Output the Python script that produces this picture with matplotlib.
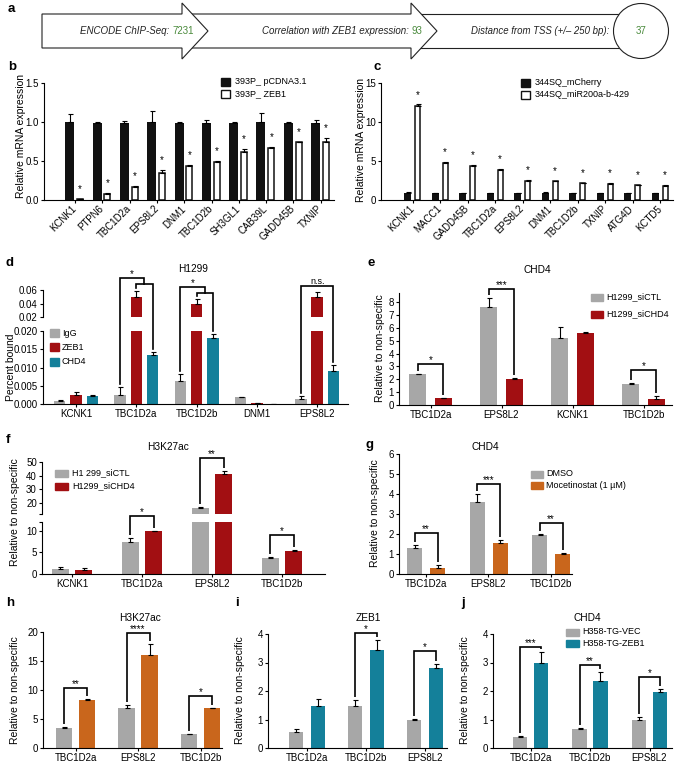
import numpy as np
import matplotlib
matplotlib.use("Agg")
import matplotlib.pyplot as plt
from matplotlib.patches import Polygon, Rectangle, Circle

plt.rcParams['font.family'] = ['Liberation Sans', 'DejaVu Sans']
plt.rcParams['font.size'] = 7.0
plt.rcParams['axes.linewidth'] = 0.8
plt.rcParams['xtick.major.width'] = 0.8
plt.rcParams['ytick.major.width'] = 0.8

W, H = 676, 763
GRAY = '#a7a7a7'
RED = '#a20f12'
TEAL = '#14809a'
ORANGE = '#c9661c'
GREEN = '#4a8a3c'
BLACK = '#111111'

# ---------------- data ----------------
# a: filtering steps
steps_a = ['ENCODE ChIP-Seq: ', 'Correlation with ZEB1 expression: ', 'Distance from TSS (+/– 250 bp):']
counts_a = ['7231', '93', '37']

# b
genes_b = ['KCNK1', 'PTPN6', 'TBC1D2a', 'EPS8L2', 'DNM1', 'TBC1D2b', 'SH3GL1', 'CAB39L', 'GADD45B', 'TXNIP']
b_pcdna = [1.00, 0.99, 0.99, 1.00, 0.99, 0.99, 0.99, 1.00, 0.99, 0.99]
b_pcdna_err = [0.10, 0.01, 0.02, 0.14, 0.01, 0.03, 0.01, 0.12, 0.01, 0.03]
b_zeb1 = [0.01, 0.08, 0.17, 0.35, 0.43, 0.49, 0.62, 0.67, 0.74, 0.74]
b_zeb1_err = [0.005, 0.005, 0.01, 0.04, 0.02, 0.01, 0.03, 0.01, 0.005, 0.05]

# c
genes_c = ['KCNK1', 'MACC1', 'GADD45B', 'TBC1D2a', 'EPS8L2', 'DNM1', 'TBC1D2b', 'TXNIP', 'ATG4D', 'KCTD5']
c_mcherry = [0.92, 0.90, 0.90, 0.90, 0.88, 0.90, 0.90, 0.90, 0.90, 0.88]
c_mcherry_err = [0.05, 0.03, 0.03, 0.03, 0.03, 0.10, 0.03, 0.03, 0.03, 0.03]
c_mir = [12.1, 4.7, 4.35, 3.85, 2.45, 2.4, 2.15, 2.05, 1.9, 1.8]
c_mir_err = [0.15, 0.15, 0.2, 0.08, 0.08, 0.08, 0.08, 0.08, 0.08, 0.08]

# d
genes_d = ['KCNK1', 'TBC1D2a', 'TBC1D2b', 'DNM1', 'EPS8L2']
d_igg = [0.0007, 0.0025, 0.0063, 0.0018, 0.0015]
d_igg_err = [0.0003, 0.0022, 0.0018, 0.0001, 0.0006]
d_zeb1 = [0.0025, 0.050, 0.039, 0.0002, 0.050]
d_zeb1_err = [0.0008, 0.009, 0.007, 0.0001, 0.007]
d_chd4 = [0.0022, 0.0135, 0.018, 0.00005, 0.009]
d_chd4_err = [0.0002, 0.0007, 0.0013, 0.0, 0.0017]
d_sig = [(1, 0.0778, 0.0689, '*'), (2, 0.0644, 0.0556, '*')]
d_ns = [(4, 0.0664, 'n.s.')]

# e
genes_e = ['TBC1D2a', 'EPS8L2', 'KCNK1', 'TBC1D2b']
e_sictl = [2.38, 7.62, 5.22, 1.67]
e_sictl_err = [0.05, 0.72, 0.85, 0.05]
e_sichd4 = [0.52, 2.0, 5.6, 0.47]
e_sichd4_err = [0.05, 0.07, 0.08, 0.22]
e_sig = [(0, 3.2, '*'), (1, 9.0, '***'), (3, 2.72, '*')]

# f
genes_f = ['KCNK1', 'TBC1D2a', 'EPS8L2', 'TBC1D2b']
f_sictl = [1.16, 7.5, 16.4, 3.8]
f_sictl_err = [0.4, 0.8, 0.7, 0.2]
f_sichd4 = [0.95, 9.84, 41.3, 5.35]
f_sichd4_err = [0.5, 0.15, 2.4, 0.1]
f_sig_low = [(1, 13.5, '*'), (3, 9.1, '*')]
f_sig_high = [(2, 52.9, '**')]

# g
genes_g = ['TBC1D2a', 'EPS8L2', 'TBC1D2b']
g_dmso = [1.32, 3.62, 1.95]
g_dmso_err = [0.13, 0.36, 0.03]
g_moce = [0.32, 1.57, 1.02]
g_moce_err = [0.13, 0.11, 0.03]
g_sig = [(0, 2.05, '**'), (1, 4.5, '***'), (2, 2.55, '**')]

# h
genes_h = ['TBC1D2a', 'EPS8L2', 'TBC1D2b']
h_dmso = [3.45, 6.9, 2.4]
h_dmso_err = [0.1, 0.5, 0.08]
h_moce = [8.35, 16.1, 6.85]
h_moce_err = [0.08, 1.8, 0.08]
h_sig = [(0, 10.4, '**'), (1, 19.9, '****'), (2, 9.0, '*')]

# i
genes_i = ['TBC1D2a', 'TBC1D2b', 'EPS8L2']
i_vec = [0.55, 1.47, 1.0]
i_vec_err = [0.12, 0.22, 0.02]
i_zeb1 = [1.47, 3.45, 2.8]
i_zeb1_err = [0.25, 0.33, 0.15]
i_sig = [(1, 4.05, '*'), (2, 3.4, '*')]

# j
genes_j = ['TBC1D2a', 'TBC1D2b', 'EPS8L2']
j_vec = [0.4, 0.65, 0.98]
j_vec_err = [0.03, 0.05, 0.12]
j_zeb1 = [3.0, 2.35, 1.97]
j_zeb1_err = [0.38, 0.3, 0.1]
j_sig = [(0, 3.55, '***'), (1, 2.9, '**'), (2, 2.5, '*')]

fig = plt.figure(figsize=(W / 100, H / 100), dpi=100)


def frame(left, top, right, bottom, c0, step, ylim):
    # axes placed by pixel box; categories sit at 0, 1, 2 ... (c0 = pixel of category 0)
    ax = fig.add_axes([left / W, 1 - bottom / H, (right - left) / W, (bottom - top) / H])
    ax.set_xlim((left - c0) / step, (right - c0) / step)
    ax.set_ylim(*ylim)
    ax.spines[['top', 'right']].set_visible(False)
    ax.patch.set_alpha(0)
    ax.tick_params(length=2.2, pad=1.5, labelsize=7.0)
    return ax


def px2y(ax, n):
    lo, hi = ax.get_ylim()
    return n * (hi - lo) / ax.get_window_extent().height


def bars(ax, vals, errs, off, width, color, edge=None, lw=0.0):
    x = np.arange(len(vals)) + off
    ax.bar(x, vals, width, color=color, edgecolor=edge if edge else color, linewidth=lw, zorder=2)
    ax.errorbar(x, vals, yerr=[np.zeros(len(errs)), errs], fmt='none', ecolor='black',
                elinewidth=0.8, capsize=1.8, capthick=0.8, zorder=3)
    return x, np.array(vals) + np.array(errs)


def bracket(ax, x1, x2, y, y1, y2, label, size=7):
    ax.plot([x1, x1, x2, x2], [y1, y, y, y2], color='black', lw=1.2, clip_on=False,
            solid_joinstyle='miter', solid_capstyle='butt', zorder=4)
    ax.annotate(label, ((x1 + x2) / 2, y), xytext=(0, 0.6), textcoords='offset points',
                ha='center', va='baseline', fontsize=size, annotation_clip=False)


def pair_panel(ax, genes, a, a_err, b, b_err, off, width, ca, cb, sig):
    xa, ta = bars(ax, a, a_err, -off, width, ca)
    xb, tb = bars(ax, b, b_err, off, width, cb)
    ax.set_xticks(range(len(genes)))
    ax.set_xticklabels(genes)
    g = px2y(ax, 3)
    for i, y, lab in sig:
        bracket(ax, xa[i], xb[i], y, ta[i] + g, tb[i] + g, lab)


def expression_panel(ax, genes, a, a_err, b, b_err, off, wa, wb):
    bars(ax, a, a_err, -off, wa, BLACK)
    xb, tb = bars(ax, b, b_err, off, wb, 'white', edge=BLACK, lw=1.1)
    for x, t in zip(xb, tb):
        ax.annotate('*', (x, t), xytext=(0, 3.5), textcoords='offset points',
                    ha='center', va='bottom', fontsize=7)
    ax.set_xticks(range(len(genes)))
    ax.set_xticklabels(genes, rotation=45, ha='right', va='center', rotation_mode='anchor')
    ax.tick_params(axis='x', pad=3)


# ---------------- b ----------------
ax_b = frame(44, 83, 334, 200, 75, 27.3, (0, 1.5))
expression_panel(ax_b, genes_b, b_pcdna, b_pcdna_err, b_zeb1, b_zeb1_err, 0.19, 0.33, 0.22)
ax_b.set_yticks([0, 0.5, 1.0, 1.5])
ax_b.set_yticklabels(['0.0', '0.5', '1.0', '1.5'])

# ---------------- c ----------------
ax_c = frame(381, 83, 673, 200, 412.7, 27.5, (0, 15))
expression_panel(ax_c, genes_c, c_mcherry, c_mcherry_err, c_mir, c_mir_err, 0.18, 0.26, 0.19)
ax_c.set_yticks([0, 5, 10, 15])

# ---------------- d (broken axis) ----------------
d_bot = frame(43, 331, 348, 404, 76, 60.3, (0, 0.020))
d_top = frame(43, 290, 348, 317, 76, 60.3, (0.02, 0.06))
xi, ti = bars(d_bot, d_igg, d_igg_err, -0.27, 0.19, GRAY)
xz, tz = bars(d_bot, d_zeb1, d_zeb1_err, 0.0, 0.19, RED)
xc, tc = bars(d_bot, d_chd4, d_chd4_err, 0.27, 0.19, TEAL)
bars(d_top, d_zeb1, d_zeb1_err, 0.0, 0.19, RED)   # only the ZEB1 bars reach the upper segment
d_bot.set_xticks(range(len(genes_d)))
d_bot.set_xticklabels(genes_d)
d_bot.set_yticks([0, 0.005, 0.010, 0.015, 0.020])
d_bot.set_yticklabels(['0.000', '0.005', '0.010', '0.015', '0.020'])
d_top.set_yticks([0.02, 0.04, 0.06])
d_top.set_yticklabels(['0.02', '0.04', '0.06'])
d_top.spines['bottom'].set_visible(False)
d_top.set_xticks([])


def d_y(v):
    # value of the d panel in bottom-axes units (values above 0.02 live on the top axes)
    if v <= 0.02:
        return v
    disp = d_top.transData.transform((0, v))
    return d_bot.transData.inverted().transform(disp)[1]


gap_d = px2y(d_bot, 3)
for i, y_main, y_sub, lab in d_sig:
    x_mid = (xz[i] + xc[i]) / 2
    d_bot.plot([xi[i], xi[i], x_mid, x_mid], [ti[i] + gap_d, d_y(y_main), d_y(y_main), d_y(y_sub)],
               color='black', lw=1.2, clip_on=False, solid_joinstyle='miter', zorder=4)
    d_bot.plot([xz[i], xz[i], xc[i], xc[i]],
               [d_y(tz[i]) + gap_d, d_y(y_sub), d_y(y_sub), d_y(tc[i]) + gap_d],
               color='black', lw=1.2, clip_on=False, solid_joinstyle='miter', zorder=4)
    d_bot.annotate(lab, ((xi[i] + x_mid) / 2, d_y(y_main)), xytext=(0, 0.6), textcoords='offset points',
                   ha='center', va='baseline', fontsize=7, annotation_clip=False)
for i, y_main, lab in d_ns:
    d_bot.plot([xi[i], xi[i], xc[i], xc[i]], [ti[i] + gap_d, d_y(y_main), d_y(y_main), tc[i] + gap_d],
               color='black', lw=1.2, clip_on=False, solid_joinstyle='miter', zorder=4)
    d_bot.annotate(lab, ((xi[i] + xc[i]) / 2, d_y(y_main)), xytext=(0, 1.0), textcoords='offset points',
                   ha='center', va='baseline', fontsize=6.5, annotation_clip=False)

# ---------------- e ----------------
ax_e = frame(399, 293, 672, 405, 430.5, 71, (0, 8.7))
pair_panel(ax_e, genes_e, e_sictl, e_sictl_err, e_sichd4, e_sichd4_err, 0.183, 0.25, GRAY, RED, e_sig)
ax_e.set_yticks(range(0, 9))

# ---------------- f (broken axis) ----------------
f_bot = frame(42, 522, 325, 574, 72, 70, (0, 12))
f_top = frame(42, 462, 325, 514, 72, 70, (12, 50))
pair_panel(f_bot, genes_f, f_sictl, f_sictl_err, f_sichd4, f_sichd4_err, 0.165, 0.24, GRAY, RED, f_sig_low)
pair_panel(f_top, genes_f, f_sictl, f_sictl_err, f_sichd4, f_sichd4_err, 0.165, 0.24, GRAY, RED, f_sig_high)
f_bot.set_yticks([0, 5, 10, 12])
f_bot.set_yticklabels(['0', '5', '10', ''])
f_top.set_yticks([12, 20, 30, 40, 50])
f_top.set_yticklabels(['', '20', '30', '40', '50'])
f_top.spines['bottom'].set_visible(False)
f_top.set_xticks([])

# ---------------- g ----------------
ax_g = frame(399, 454, 572, 574, 426, 62.5, (0, 6))
pair_panel(ax_g, genes_g, g_dmso, g_dmso_err, g_moce, g_moce_err, 0.184, 0.24, GRAY, ORANGE, g_sig)
ax_g.set_yticks(range(0, 7))

# ---------------- h ----------------
ax_h = frame(43, 632, 222, 748, 75.5, 62.5, (0, 20))
pair_panel(ax_h, genes_h, h_dmso, h_dmso_err, h_moce, h_moce_err, 0.184, 0.27, GRAY, ORANGE, h_sig)
ax_h.set_yticks([0, 5, 10, 15, 20])

# ---------------- i ----------------
ax_i = frame(268, 634, 447, 748, 307, 59, (0, 4))
pair_panel(ax_i, genes_i, i_vec, i_vec_err, i_zeb1, i_zeb1_err, 0.186, 0.25, GRAY, TEAL, i_sig)
ax_i.set_yticks(range(0, 5))

# ---------------- j ----------------
ax_j = frame(493, 634, 672, 748, 530.5, 59.5, (0, 4))
pair_panel(ax_j, genes_j, j_vec, j_vec_err, j_zeb1, j_zeb1_err, 0.176, 0.245, GRAY, TEAL, j_sig)
ax_j.set_yticks(range(0, 5))

# ---------------- overlay in pixel units ----------------
ov = fig.add_axes([0, 0, 1, 1], zorder=10)
ov.set_xlim(0, W)
ov.set_ylim(H, 0)
ov.axis('off')
ov.patch.set_visible(False)


def arrow(x0, x_head, x_tip, cy=31, hb=17, hh=28):
    pts = [(x0, cy - hb), (x_head, cy - hb), (x_head, cy - hh), (x_tip, cy),
           (x_head, cy + hh), (x_head, cy + hb), (x0, cy + hb)]
    return Polygon(pts, closed=True, facecolor='white', edgecolor='#222222', lw=0.8)


ov.add_patch(Rectangle((416, 14), 210, 34, facecolor='white', edgecolor='#222222', lw=0.8))
ov.add_patch(Circle((641, 31), 27.5, facecolor='white', edgecolor='#222222', lw=0.8))
ov.add_patch(arrow(188, 411, 437))
ov.add_patch(arrow(42, 182, 208))
for x, step, n in zip([80, 262], steps_a[:2], counts_a[:2]):
    t = ov.text(x, 31, step, style='italic', va='center', ha='left', fontsize=7.0, color='#222222')
    ov.annotate(n, xy=(1, 0.5), xycoords=t, va='center', ha='left', fontsize=7.0, color=GREEN)
ov.text(609, 31, steps_a[2], style='italic', va='center', ha='right', fontsize=6.9, color='#222222')
ov.text(641, 31, counts_a[2], va='center', ha='center', fontsize=7.0, color=GREEN)

# panel letters
for lab, x, y in [('a', 8, 9), ('b', 8, 67), ('c', 373, 67), ('d', 6, 263), ('e', 367, 263),
                  ('f', 6, 440), ('g', 366, 445), ('h', 6, 603), ('i', 235, 603), ('j', 461, 603)]:
    ov.text(x, y, lab, fontsize=9.5, fontweight='bold', ha='left', va='center')

# titles
for lab, x, y in [('H1299', 193, 269), ('CHD4', 537, 270), ('H3K27ac', 168, 447), ('CHD4', 485, 447),
                  ('H3K27ac', 140, 618), ('ZEB1', 368, 618), ('CHD4', 587, 618)]:
    ov.text(x, y, lab, fontsize=7.3, ha='center', va='center')

# y labels
for lab, x, y in [('Relative mRNA expression', 21, 136), ('Relative mRNA expression', 361, 140),
                  ('Percent bound', 11, 367), ('Relative to non-specific', 380, 348),
                  ('Relative to non-specific', 15, 512), ('Relative to non-specific', 375, 513),
                  ('Relative to non-specific', 15, 690), ('Relative to non-specific', 240, 690),
                  ('Relative to non-specific', 465, 690)]:
    ov.text(x, y, lab, fontsize=7.5, rotation=90, ha='center', va='center')


def legend(x, ys, w, h, tx, colors, labels, edges=None):
    edges = edges or colors
    for y, c, e, lab in zip(ys, colors, edges, labels):
        ov.add_patch(Rectangle((x, y - h / 2), w, h, facecolor=c, edgecolor=e, lw=1.0))
        ov.text(tx, y, lab, fontsize=6.5, va='center', ha='left')


legend(221, [82, 94], 9, 8, 235, [BLACK, 'white'], ['393P_ pCDNA3.1', '393P_ ZEB1'], [BLACK, BLACK])
legend(521, [82.5, 94.5], 9, 8, 535, [BLACK, 'white'], ['344SQ_mCherry', '344SQ_miR200a-b-429'], [BLACK, BLACK])
legend(50, [333, 347, 362], 9, 8.5, 62, [GRAY, RED, TEAL], ['IgG', 'ZEB1', 'CHD4'])
legend(591, [297, 314], 12, 7, 606, [GRAY, RED], ['H1299_siCTL', 'H1299_siCHD4'])
legend(55, [473, 486], 13, 7, 72, [GRAY, RED], ['H1 299_siCTL', 'H1299_siCHD4'])
legend(531, [474, 485], 12, 7, 546, [GRAY, ORANGE], ['DMSO', 'Mocetinostat (1 µM)'])
legend(566, [632, 643], 13, 7, 582, [GRAY, TEAL], ['H358-TG-VEC', 'H358-TG-ZEB1'])

fig.savefig('out.png', dpi=100)
